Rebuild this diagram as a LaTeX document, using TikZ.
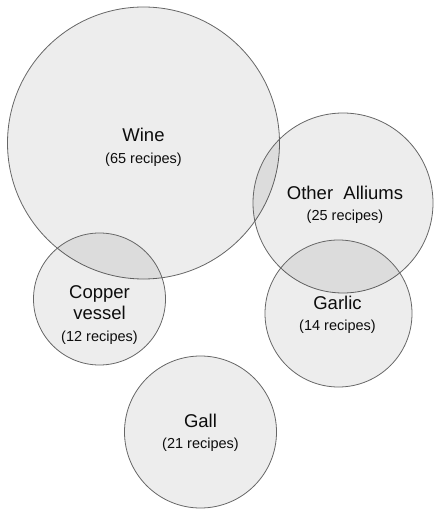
\documentclass[tikz,border=0pt]{standalone}
\usepackage{fontspec}
\setmainfont{Liberation Sans}
\usepackage{tikz}

\tikzset{
  set/.style={draw=black!60, line width=0.8pt, fill=black, fill opacity=0.07},
  setname/.style={align=center, text=black!95, font=\fontsize{18.5}{21.5}\selectfont},
}
\newcommand{\recipes}[1]{{\fontsize{14.5}{17}\selectfont(#1 recipes)}}

\begin{document}
\begin{tikzpicture}[x=1pt, y=-1pt]

\useasboundingbox (0,0) rectangle (434,510);

\coordinate (wine) at (143.5, 143);
\coordinate (alliums) at (343, 203);
\coordinate (copper) at (99.5, 299);
\coordinate (garlic) at (338.5, 313.5);
\coordinate (gall) at (200.5, 432);


\draw [set] (wine) circle [radius=136pt];
\draw [set] (alliums) circle [radius=90pt];
\draw [set] (copper) circle [radius=66pt];
\draw [set] (garlic) circle [radius=73.5pt];
\draw [set] (gall) circle [radius=76pt];


\node [setname] (winelabel) at (143.5, 147.5) {Wine\\ \recipes{65}};
\node [setname] (allilabel) at (345, 205) {Other~~Alliums\\ \recipes{25}};
\node [setname] (copperlabel) at (99.5, 315) {Copper\\ vessel\\ \recipes{12}};
\node [setname] (garliclabel) at (337.5, 315) {Garlic\\ \recipes{14}};
\node [setname] (galllabel) at (200.5, 433) {Gall\\ \recipes{21}};

\end{tikzpicture}
\end{document}
